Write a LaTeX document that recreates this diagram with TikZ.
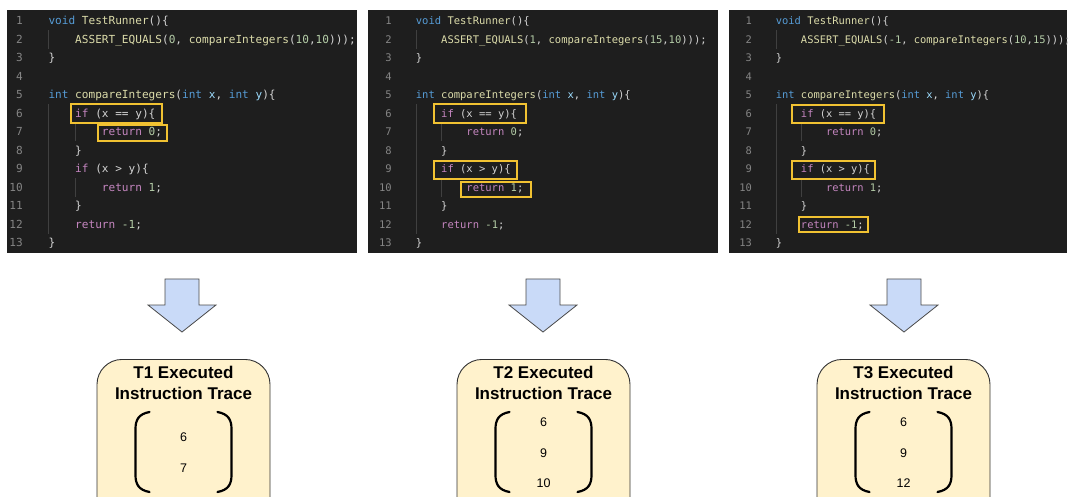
\documentclass[tikz,border=0pt]{standalone}
\usepackage{fontspec}
\setmainfont{Liberation Sans}
\newfontfamily\codefont{DejaVu Sans Mono}
\usetikzlibrary{fit}

\definecolor{codebg}{HTML}{1E1E1E}
\definecolor{ckwc}{HTML}{569CD6}
\definecolor{cfnc}{HTML}{DCDCAA}
\definecolor{cctlc}{HTML}{C586C0}
\definecolor{cnumc}{HTML}{B5CEA8}
\definecolor{cvarc}{HTML}{9CDCFE}
\definecolor{cpunc}{HTML}{D4D4D4}
\definecolor{clnumc}{HTML}{858585}
\definecolor{guidec}{HTML}{404040}
\definecolor{hlc}{HTML}{F1C232}
\definecolor{arrowfill}{HTML}{C9DAF8}
\definecolor{arrowline}{HTML}{4A4A4A}
\definecolor{tracefill}{HTML}{FFF2CC}
\definecolor{traceline}{HTML}{333333}

\newcommand\ckw[1]{\textcolor{ckwc}{#1}}
\newcommand\cfn[1]{\textcolor{cfnc}{#1}}
\newcommand\cctl[1]{\textcolor{cctlc}{#1}}
\newcommand\cnum[1]{\textcolor{cnumc}{#1}}
\newcommand\cvar[1]{\textcolor{cvarc}{#1}}

\def\codesize{\fontsize{11}{13}\selectfont}

\tikzset{
  panel/.style={fill=codebg, inner sep=0pt, draw=none},
  code/.style={anchor=base west, inner sep=0pt, font=\codefont\codesize, text=cpunc},
  lnum/.style={anchor=base east, inner sep=0pt, font=\codefont\codesize, text=clnumc},
  guide/.style={draw=guidec, line width=0.8pt},
  hl/.style={draw=hlc, line width=2pt},
  blockarrow/.style={fill=arrowfill, draw=arrowline, line width=0.8pt, line join=miter},
  trace/.style={fill=tracefill, draw=traceline, line width=0.9pt, rounded corners=25pt,
    minimum width=173pt, minimum height=170pt, anchor=north, inner sep=0pt},
  tracetitle/.style={align=center, font=\bfseries\fontsize{17}{21}\selectfont, inner sep=0pt},
  tracenum/.style={font=\fontsize{12.5}{14}\selectfont, inner sep=0pt},
  paren/.style={draw=black, line width=2.2pt, line cap=round},
}

% #1 name, #2 left, #3 right, #4 line-number right edge, #5 code start,
% #6 character width, #7 body of the ASSERT_EQUALS call
\newcommand\drawcode[7]{%
  \node[panel, fit={(#2,-10) (#3,-253)}] (#1) {};
  \pgfmathsetmacro\lva{#5}%
  \pgfmathsetmacro\lvb{#5+4*#6}%
  \pgfmathsetmacro\lvc{#5+8*#6}%
  \pgfmathsetmacro\fsz{#6/0.602}%
  \def\codesize{\fontsize{\fsz}{13}\selectfont}%
  \draw[guide] (\lva+0.5,-30.25) -- ++(0,-18.5);
  \draw[guide] (\lva+0.5,-104.25) -- (\lva+0.5,-233.75);
  \draw[guide] (\lvb+0.5,-122.75) -- ++(0,-18.5);
  \draw[guide] (\lvb+0.5,-178.25) -- ++(0,-18.5);
  \foreach \i in {1,...,13} \node[lnum] (#1n\i) at (#4,{-6.5-18.5*\i}) {\i};
  \node[code] (#1l1)  at (\lva,-25)    {\ckw{void} \cfn{TestRunner}()\{};
  \node[code] (#1l2)  at (\lvb,-43.5)  {\cfn{ASSERT\_EQUALS}(#7));};
  \node[code] (#1l3)  at (\lva,-62)    {\}};
  \node[code] (#1l5)  at (\lva,-99)    {\ckw{int} \cfn{compareIntegers}(\ckw{int} \cvar{x}, \ckw{int} \cvar{y})\{};
  \node[code] (#1l6)  at (\lvb,-117.5) {\cctl{if} (x == y)\{};
  \node[code] (#1l7)  at (\lvc,-136)   {\cctl{return} \cnum{0};};
  \node[code] (#1l8)  at (\lvb,-154.5) {\}};
  \node[code] (#1l9)  at (\lvb,-173)   {\cctl{if} (x > y)\{};
  \node[code] (#1l10) at (\lvc,-191.5) {\cctl{return} \cnum{1};};
  \node[code] (#1l11) at (\lvb,-210)   {\}};
  \node[code] (#1l12) at (\lvb,-228.5) {\cctl{return} \cnum{-1};};
  \node[code] (#1l13) at (\lva,-247)   {\}};
}

% #1 name, #2 centre x, #3 title
\newcommand\drawtrace[3]{%
  \node[trace] (#1) at (#2,-359) {};
  \node[tracetitle] (#1title) at (#2,-383) {#3 Executed\\Instruction Trace};
  \draw[paren] (#2-34,-412) .. controls (#2-45,-414) and (#2-48,-420) .. (#2-48,-429)
    -- (#2-48,-475) .. controls (#2-48,-484) and (#2-45,-490) .. (#2-34,-492);
  \draw[paren] (#2+34,-412) .. controls (#2+45,-414) and (#2+48,-420) .. (#2+48,-429)
    -- (#2+48,-475) .. controls (#2+48,-484) and (#2+45,-490) .. (#2+34,-492);
}

% #1 name, #2 centre x
\newcommand\blockdown[2]{%
  \draw[blockarrow] (#2-17,-279) -- (#2+17,-279) -- (#2+17,-305) -- (#2+34,-305)
    -- (#2,-332) coordinate (#1tip) -- (#2-34,-305) -- (#2-17,-305) -- cycle;
}

\begin{document}
\begin{tikzpicture}[x=1pt,y=1pt]
  \path[use as bounding box] (0,0) rectangle (1074,-497);
  \clip (0,0) rectangle (1074,-497);

  % code panels
  \drawcode{pa}{7}{357}{23}{48.3}{6.68}{\cnum{0}, \cfn{compareIntegers}(\cnum{10},\cnum{10})}
  \drawcode{pb}{368}{718}{392}{415.7}{6.32}{\cnum{1}, \cfn{compareIntegers}(\cnum{15},\cnum{10})}
  \drawcode{pc}{729}{1067}{752}{775.7}{6.27}{\cnum{-1}, \cfn{compareIntegers}(\cnum{10},\cnum{15})}

  % executed lines
  \draw[hl] (71,-104) rectangle (162,-123);
  \draw[hl] (98,-125.5) rectangle (167,-141);

  \draw[hl] (434,-104.5) rectangle (526,-123.3);
  \draw[hl] (434,-160.7) rectangle (517,-179);
  \draw[hl] (461,-181.7) rectangle (531,-197.3);

  \draw[hl] (792,-105.5) rectangle (884,-123.3);
  \draw[hl] (792,-161) rectangle (875,-179);
  \draw[hl] (799,-216.7) rectangle (868,-232.3);

  % arrows
  \blockdown{aa}{182}
  \blockdown{ab}{543}
  \blockdown{ac}{904}

  % traces
  \drawtrace{ta}{183.5}{T1}
  \node[tracenum] at (183.5,-437) {6};
  \node[tracenum] at (183.5,-468) {7};

  \drawtrace{tb}{543.5}{T2}
  \node[tracenum] at (543.5,-422) {6};
  \node[tracenum] at (543.5,-453) {9};
  \node[tracenum] at (543.5,-483) {10};

  \drawtrace{tc}{903.5}{T3}
  \node[tracenum] at (903.5,-422) {6};
  \node[tracenum] at (903.5,-453) {9};
  \node[tracenum] at (903.5,-483) {12};
\end{tikzpicture}
\end{document}
